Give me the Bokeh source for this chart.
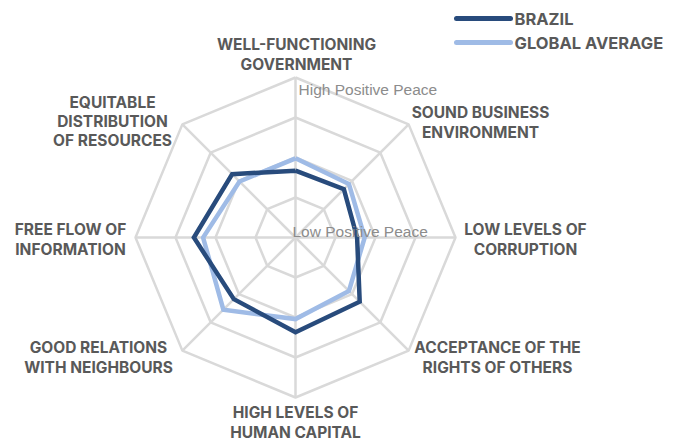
import numpy as np
from bokeh.plotting import figure
from bokeh.models import Range1d
from bokeh.core.properties import value
from bokeh.embed import file_html
from bokeh.resources import INLINE

# ---- data (Positive Peace domain scores, 1 = high, 5 = low) ----
domains = ["WELL-FUNCTIONING\nGOVERNMENT", "SOUND BUSINESS\nENVIRONMENT", "LOW LEVELS OF\nCORRUPTION",
           "ACCEPTANCE OF THE\nRIGHTS OF OTHERS", "HIGH LEVELS OF\nHUMAN CAPITAL",
           "GOOD RELATIONS\nWITH NEIGHBOURS", "FREE FLOW OF\nINFORMATION",
           "EQUITABLE\nDISTRIBUTION\nOF RESOURCES"]
brazil = [3.33, 3.29, 3.46, 2.73, 2.63, 2.82, 2.46, 2.76]
global_avg = [3.02, 3.11, 3.27, 3.11, 2.96, 2.45, 2.69, 3.02]
ring_levels = [4, 3, 2, 1]
scale_low, scale_high = 5, 1
series_names = ["BRAZIL", "GLOBAL AVERAGE"]

W, H = 676, 442
CX, CY = 295, H - 237
R = 160.0

def radius(v):
    return (scale_low - np.asarray(v, dtype=float)) / (scale_low - scale_high) * R

n = len(domains)
ang = np.pi / 2 - np.arange(n) * 2 * np.pi / n

p = figure(width=W, height=H, output_backend="svg", toolbar_location=None,
           x_range=Range1d(0, W), y_range=Range1d(0, H), min_border=0)
p.axis.visible = False
p.grid.visible = False
p.outline_line_color = None
p.background_fill_color = None

grid_col = "#d9d9d9"
for lv in ring_levels:
    r = radius(lv)
    xs = list(CX + r * np.cos(ang)) + [CX + r * np.cos(ang[0])]
    ys = list(CY + r * np.sin(ang)) + [CY + r * np.sin(ang[0])]
    p.line(xs, ys, line_color=grid_col, line_width=2.5)
p.segment(x0=[CX] * n, y0=[CY] * n, x1=list(CX + R * np.cos(ang)), y1=list(CY + R * np.sin(ang)),
          line_color=grid_col, line_width=2.5)

cols = ["#284b7c", "#9fbbe6"]
for vals, c in zip([global_avg, brazil], [cols[1], cols[0]]):
    r = radius(vals)
    xs = list(CX + r * np.cos(ang)) + [CX + r[0] * np.cos(ang[0])]
    ys = list(CY + r * np.sin(ang)) + [CY + r[0] * np.sin(ang[0])]
    p.line(xs, ys, line_color=c, line_width=4.5, line_join="miter")

# scale labels
p.text(x=[CX + 3, CX - 3], y=[CY + R - 12, CY + 6], text=["High Positive Peace", "Low Positive Peace"],
       text_font=value("Liberation Sans"), text_font_size="15.5px", text_color="#8c8c8c",
       text_align="left", text_baseline="middle")

# domain labels (page pixel positions -> data)
lab_px = [(296, 54), (480, 122), (525, 239), (497, 357), (295, 422), (98, 357), (70, 239), (112, 121)]
lx = [a for a, b in lab_px]
ly = [H - b for a, b in lab_px]
p.text(x=lx, y=ly, text=domains, text_font=value("Inter"), text_font_style="bold",
       text_font_size="15.5px", text_color="#595959", text_align="center", text_baseline="middle",
       text_line_height=1.02)

# legend
leg_y = [H - 18, H - 42]
p.segment(x0=[456] * 2, x1=[510] * 2, y0=leg_y, y1=leg_y, line_color=cols, line_width=5,
          line_cap="round")
p.text(x=[514] * 2, y=leg_y, text=series_names, text_font=value("Inter"), text_font_style="bold",
       text_font_size="16.5px", text_color="#595959", text_align="left", text_baseline="middle")

open("out.html", "w").write(file_html(p, INLINE))
